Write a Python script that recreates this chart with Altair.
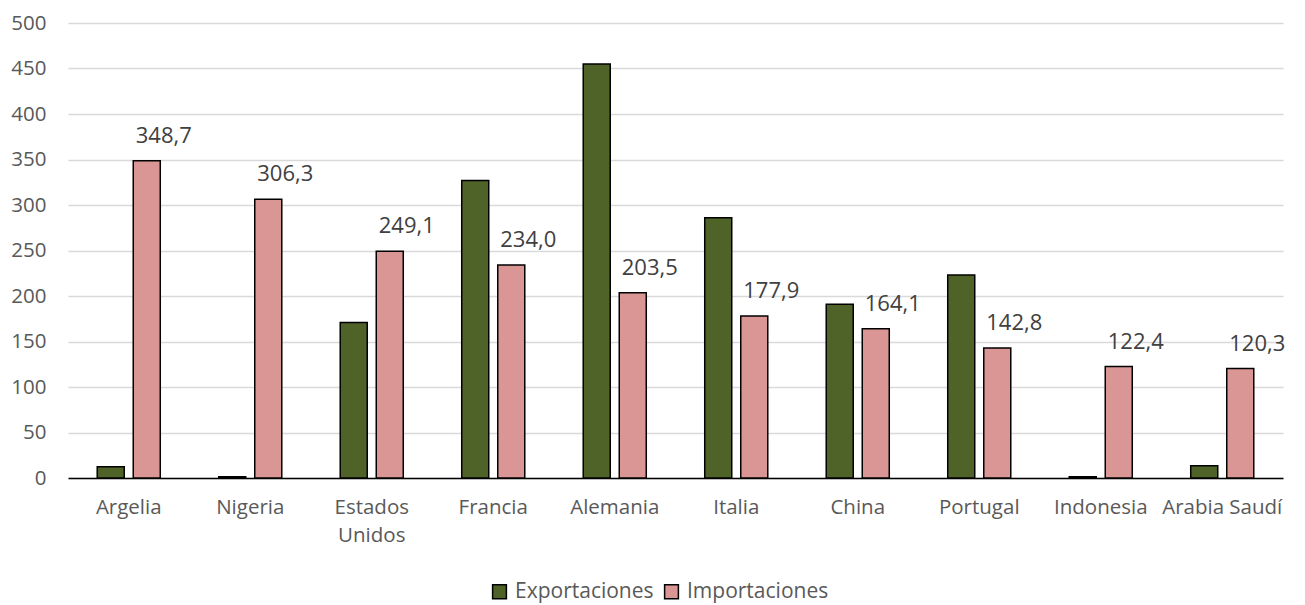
import altair as alt
import pandas as pd

paises = ["Argelia", "Nigeria", "Estados Unidos", "Francia", "Alemania",
          "Italia", "China", "Portugal", "Indonesia", "Arabia Saudí"]
exportaciones = [12.3, 1.5, 171.0, 327.0, 455.0, 286.0, 191.0, 223.0, 1.5, 13.4]
importaciones = [348.7, 306.3, 249.1, 234.0, 203.5, 177.9, 164.1, 142.8, 122.4, 120.3]
series = ["Exportaciones", "Importaciones"]
colores = ["#4f6228", "#d99694"]
y_ticks = [0, 50, 100, 150, 200, 250, 300, 350, 400, 450, 500]

rows = []
for p, e, i in zip(paises, exportaciones, importaciones):
    rows.append({"pais": p, "serie": "Exportaciones", "valor": e})
    rows.append({"pais": p, "serie": "Importaciones", "valor": i})
df = pd.DataFrame(rows)

FONT = "Open Sans"

x_enc = alt.X(
    "pais:N", sort=paises,
    scale=alt.Scale(paddingInner=0.407, paddingOuter=0.2035),
    axis=alt.Axis(
        title=None, labelAngle=0, ticks=False, labelPadding=19,
        labelFontSize=20.5, labelColor="#595959", labelFont=FONT,
        domainColor="#000000", domainWidth=1.5,
        labelExpr="datum.label == 'Estados Unidos' ? ['Estados', 'Unidos'] : datum.label",
        labelLineHeight=28, labelBaseline="top",
    ),
)
xo_enc = alt.XOffset("serie:N", sort=series,
                     scale=alt.Scale(paddingInner=0.25, paddingOuter=0.125))
y_enc = alt.Y(
    "valor:Q",
    scale=alt.Scale(domain=[0, 500], nice=False),
    axis=alt.Axis(
        title=None, values=y_ticks, ticks=False, domain=False, labelPadding=22,
        labelFontSize=20.5, labelColor="#595959", labelFont=FONT,
        gridColor="#d9d9d9", gridWidth=1.5,
    ),
)

base = alt.Chart(df)

bars = base.mark_bar(stroke="#000000", strokeWidth=1.5).encode(
    x=x_enc,
    xOffset=xo_enc,
    y=y_enc,
    color=alt.Color(
        "serie:N", sort=series,
        scale=alt.Scale(domain=series, range=colores),
        legend=alt.Legend(
            title=None, orient="none", direction="horizontal",
            legendX=421, legendY=558, symbolType="square", symbolSize=190,
            symbolStrokeColor="#000000", symbolStrokeWidth=1.5,
            labelFontSize=21, labelColor="#595959", labelFont=FONT,
            labelOffset=5, columnPadding=7, padding=0,
        ),
    ),
)

labels = base.transform_filter(
    alt.datum.serie == "Importaciones"
).transform_calculate(
    txt="replace(format(datum.valor, '.1f'), '.', ',')"
).mark_text(
    dy=-25, dx=17, fontSize=22, color="#404040", font=FONT
).encode(
    x=x_enc,
    xOffset=xo_enc,
    y=y_enc,
    text="txt:N",
)

chart = alt.layer(bars, labels).properties(
    width=1215, height=455,
    autosize=alt.AutoSizeParams(type="none"),
    padding={"left": 60, "top": 15, "right": 10, "bottom": 130},
).configure_view(stroke=None)

chart.save("out.html", embed_options={"renderer": "svg", "actions": False})
